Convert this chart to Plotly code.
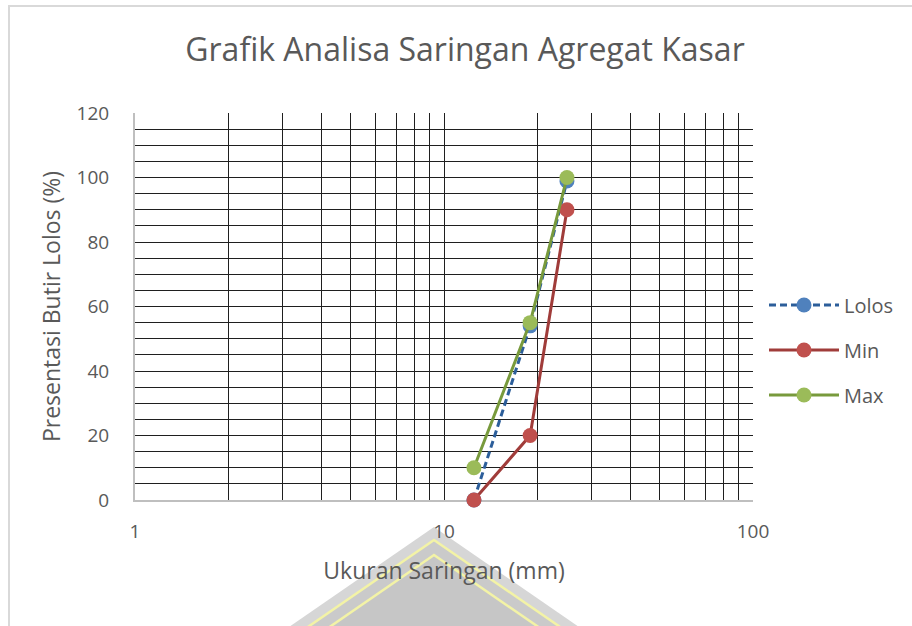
import plotly.graph_objects as go

# ---- data ----
sieve_mm = [12.5, 19, 25]
lolos = [0, 54, 98.9]
spec_min = [0, 20, 90]
spec_max = [10, 55, 100]

x_tickvals = [1, 2, 3, 4, 5, 6, 7, 8, 9, 10, 20, 30, 40, 50, 60, 70, 80, 90, 100]
x_ticktext = ["1", "", "", "", "", "", "", "", "", "10", "", "", "", "", "", "", "", "", "100"]
y_tickvals = [0, 20, 40, 60, 80, 100, 120]

W, H = 912, 626
L, R, T, B = 135, 753, 113, 500  # plot area in px


def px(xp):
    return (xp - L) / (R - L)


def py(yp):
    return (B - yp) / (B - T)


font_fam = "Open Sans, Noto Sans, sans-serif"
txt = "#595959"

fig = go.Figure()
fig.add_trace(go.Scatter(
    x=sieve_mm, y=lolos, name="Lolos", mode="lines+markers", legendgroup="a",
    line=dict(color="#2C5E9A", width=3, dash="7px,4px"),
    marker=dict(color="#4F81BD", size=15), cliponaxis=False))
fig.add_trace(go.Scatter(
    x=sieve_mm, y=spec_min, name="Min", mode="lines+markers", legendgroup="b",
    line=dict(color="#A03C3A", width=3),
    marker=dict(color="#C0504D", size=15), cliponaxis=False))
fig.add_trace(go.Scatter(
    x=sieve_mm, y=spec_max, name="Max", mode="lines+markers", legendgroup="c",
    line=dict(color="#789A3C", width=3),
    marker=dict(color="#9BBB59", size=15), cliponaxis=False))


def tri(apex_x, apex_y, slope, bottom):
    dy = bottom - apex_y
    pts = [(apex_x, apex_y), (apex_x - slope * dy, bottom), (apex_x + slope * dy, bottom)]
    s = "M " + " L ".join(f"{px(a):.4f},{py(b):.4f}" for a, b in pts) + " Z"
    return s


shapes = [
    # outer chart border
    dict(type="rect", xref="paper", yref="paper", x0=px(9), x1=px(930), y0=py(640), y1=py(6),
         line=dict(color="#d9d9d9", width=2), fillcolor="rgba(0,0,0,0)", layer="below"),
    # watermark
    dict(type="path", xref="paper", yref="paper", path=tri(434, 527, 1.45, 660),
         fillcolor="#d6d6d6", line=dict(width=0), layer="below"),
    dict(type="path", xref="paper", yref="paper", path=tri(434, 540, 1.45, 660),
         fillcolor="#cacaca", line=dict(color="#f3f3a6", width=2.5), layer="below"),
    dict(type="path", xref="paper", yref="paper", path=tri(434, 555, 1.45, 660),
         fillcolor="#c6c6c6", line=dict(color="#f3f3a6", width=2.5), layer="below"),
]

fig.update_layout(
    width=W, height=H,
    margin=dict(l=L, r=W - R, t=T, b=H - B),
    paper_bgcolor="white", plot_bgcolor="white",
    font=dict(family=font_fam, color=txt, size=19),
    title=dict(text="Grafik Analisa Saringan Agregat Kasar", xref="container", x=465 / W,
               xanchor="center", yref="container", y=1 - 50 / H, yanchor="middle",
               font=dict(size=32, color=txt)),
    showlegend=True,
    legend=dict(x=px(764), xanchor="left", y=py(350), yanchor="middle",
                font=dict(size=20, color=txt), tracegroupgap=16, itemwidth=70,
                bgcolor="rgba(0,0,0,0)"),
    shapes=shapes,
)

fig.update_xaxes(
    type="log", range=[0, 2], tickvals=x_tickvals, ticktext=x_ticktext,
    showgrid=True, gridcolor="#1f1f1f", gridwidth=1,
    showline=True, linecolor="#bfbfbf", linewidth=2, mirror=False,
    ticks="", ticklabelstandoff=13, layer="below traces",
    tickfont=dict(size=19, color=txt),
    title=dict(text="Ukuran Saringan (mm)", standoff=20, font=dict(size=23, color=txt)),
    zeroline=False,
)
fig.update_yaxes(
    range=[0, 120], tickvals=y_tickvals,
    showgrid=True, gridcolor="#1f1f1f", gridwidth=1,
    minor=dict(dtick=5, showgrid=True, gridcolor="#1f1f1f", gridwidth=1),
    showline=True, linecolor="#bfbfbf", linewidth=2, mirror=False,
    ticks="", ticklabelstandoff=20, layer="below traces",
    tickfont=dict(size=19, color=txt),
    title=dict(text="Presentasi Butir Lolos (%)", standoff=10, font=dict(size=23, color=txt)),
    zeroline=False,
)

fig.write_html("out.html", config={"displayModeBar": False},
               post_script="document.body.style.margin='0px';")
